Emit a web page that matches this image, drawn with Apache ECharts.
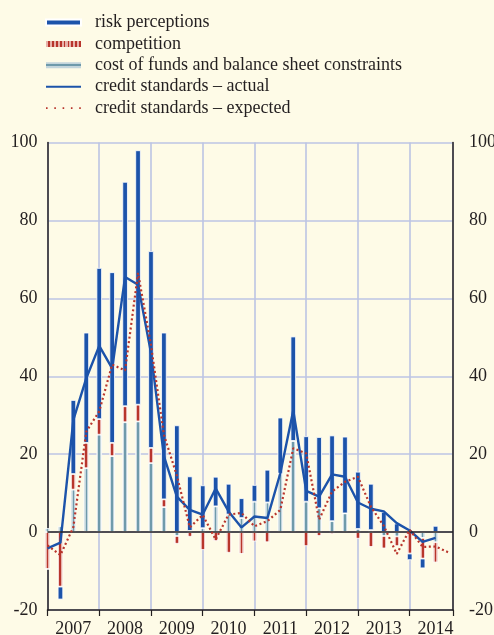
<!DOCTYPE html>
<html>
<head>
<meta charset="utf-8">
<script src="https://cdn.jsdelivr.net/npm/echarts@6/dist/echarts.min.js"></script>
<style>
html, body { margin: 0; padding: 0; background: #fefbe7; }
#grafico { width: 494px; height: 635px; }
</style>
</head>
<body>
<div id="grafico"></div>
<script>
// quarterly, first bar = 2007 Q1 (index 0)
const YEARS = ['2007', '2008', '2009', '2010', '2011', '2012', '2013', '2014']

const riskPerceptions = [0, -3.3, 19, 28.3, 38.8, 43.8, 57.6, 65.3, 50.5, 42.8, 27.4, 14, 11, 7.6, 7.9, 5.1,
  4.3, 8.4, 14.4, 26.8, 16.8, 18.3, 22, 19.7, 14.7, 11.9, 5.2, 2.2, -1.7, -2.5, 1.6]
const competition = [-9.5, -14, 4, 6.5, 4, 3.4, 4.1, 4.3, 3.9, 2, -2, -1.2, -4.6, -2.3, -5.3, -5.6,
  -2.4, -2.6, 0, 0, -3.6, -1, -0.5, 0, -1.7, -3.8, -3.2, -2.5, -5.5, -5.3, -5.2]
const costOfFunds = [1, 1.5, 10.9, 16.4, 25, 19.5, 28.2, 28.4, 17.7, 6.4, -1, 0.3, 1, 6.6, 4.5, 3.6,
  7.8, 7.6, 15, 23.4, 7.8, 6.1, 2.8, 4.8, 0.8, 0.5, -1, -1.1, 0, -1.5, -2.6]
const standardsActual = [-4.2, -2.7, 28.8, 39.5, 47.8, 42, 65.5, 63.5, 46, 19.5, 9.1, 5.7, 4.5, 11.2, 5.3, 1.2,
  4, 3.6, 15.1, 31.2, 10.6, 9.1, 14.8, 14.2, 7.6, 6, 5.3, 2.3, 0.4, -2.5, -1.5]
const standardsExpected = [-3.4, -5.9, 1.3, 25.8, 31, 43, 41.5, 66.5, 48, 25, 14.5, 1.2, 4.4, -1.9, 4.5, 4.9,
  1.5, 2.8, 5.7, 21.5, 20.2, 3.2, 10.4, 12.9, 14.2, 6.5, 1.6, -5.6, 0.6, -3.8, -3.7, -5.2]

const FONT = 'Liberation Serif'
const INK = '#231f20'
const GRID_LINE = '#bcc5e4'
const BLUE = '#1c53aa'
const RED = '#b8352c'
const PINK = '#e8b2aa'
const PALE = '#c3d5dc'
const TEAL = '#6f9aab'

// value/value axes stack by index: put y first so y is the stacked dimension
const asRows = arr => arr.map((v, i) => [v, i])
const asPoints = arr => arr.map((v, i) => [i, v])

// vertical stripes for the competition legend key
const stripes = (bg, fg, n, share) => {
  const stops = []
  for (let k = 0; k < n; k++) {
    const a = k / n, m = (k + 1 - share) / n, b = (k + 1) / n
    stops.push({ offset: a, color: bg }, { offset: m, color: bg })
    stops.push({ offset: m, color: fg }, { offset: b, color: fg })
  }
  return { type: 'linear', x: 0, y: 0, x2: 1, y2: 0, colorStops: stops }
}

const band = (side, mid, vertical, a, b) => ({
  type: 'linear', x: 0, y: 0, x2: vertical ? 0 : 1, y2: vertical ? 1 : 0,
  colorStops: [
    { offset: 0, color: side }, { offset: a, color: side },
    { offset: a, color: mid }, { offset: b, color: mid },
    { offset: b, color: side }, { offset: 1, color: side }
  ]
})

const compFill = band(PINK, RED, false, 0.33, 0.67)
const costFill = band(PALE, TEAL, false, 0.36, 0.64)
const costLegendFill = band(PALE, TEAL, true, 0.35, 0.65)

const yearCenters = YEARS.map((y, i) => i * 4 + 2)

let myChart = echarts.init(document.getElementById('grafico'))

const barBase = {
  type: 'bar',
  stack: 'factores',
  barWidth: 5.5,
  clip: false,
  encode: { x: 1, y: 0 }
}

let option = {
  backgroundColor: '#fefbe7',
  animation: false,
  textStyle: { fontFamily: FONT, color: INK },
  legend: {
    orient: 'vertical',
    left: 40,
    top: 8.5,
    itemWidth: 35,
    itemHeight: 6,
    itemGap: 3.4,
    selectedMode: false,
    textStyle: { fontFamily: FONT, fontSize: 18, color: INK, lineHeight: 18, padding: [0, 0, 0, 9] },
    data: [
      { name: 'risk perceptions', icon: 'rect' },
      { name: 'competition', icon: 'rect', itemStyle: { color: stripes(PINK, RED, 9, 0.45), borderWidth: 0 } },
      { name: 'cost of funds and balance sheet constraints', icon: 'rect', itemStyle: { color: costLegendFill, borderWidth: 0 } },
      { name: 'credit standards – actual', itemStyle: { opacity: 0 } },
      { name: 'credit standards – expected', itemStyle: { opacity: 0 }, lineStyle: { type: [1.6, 6.7], width: 1.8 } }
    ]
  },
  grid: { left: 47.5, top: 142.5, right: 41, bottom: 25, outerBoundsMode: 'none', containLabel: false },
  xAxis: {
    type: 'value',
    min: 0,
    max: 31.35,
    interval: 4,
    axisLine: { onZero: false, lineStyle: { color: INK, width: 1.5 } },
    axisTick: { show: true, length: 6, lineStyle: { color: INK, width: 1.2 } },
    splitLine: { show: true, lineStyle: { color: GRID_LINE, width: 1.6 } },
    axisLabel: {
      customValues: yearCenters,
      formatter: v => YEARS[(v - 2) / 4],
      fontFamily: FONT, fontSize: 18, color: INK, margin: 10
    }
  },
  yAxis: [
    {
      type: 'value',
      position: 'left',
      min: -20, max: 100, interval: 20,
      axisLine: { show: true, onZero: false, lineStyle: { color: INK, width: 1.5 } },
      axisTick: { show: false },
      splitLine: { show: true, lineStyle: { color: GRID_LINE, width: 1.6 } },
      axisLabel: { fontFamily: FONT, fontSize: 18, color: INK, margin: 10 }
    },
    {
      type: 'value',
      position: 'right',
      min: -20, max: 100, interval: 20,
      axisLine: { show: true, onZero: false, lineStyle: { color: INK, width: 1.5 } },
      axisTick: { show: false },
      splitLine: { show: false },
      axisLabel: { fontFamily: FONT, fontSize: 18, color: INK, margin: 16 }
    }
  ],
  series: [
    {
      ...barBase,
      name: 'cost of funds and balance sheet constraints',
      data: asRows(costOfFunds),
      itemStyle: { color: costFill, borderColor: '#ffffff', borderWidth: 0.8 },
      markLine: {
        silent: true,
        symbol: 'none',
        label: { show: false },
        lineStyle: { color: INK, width: 1.5, type: 'solid' },
        data: [{ yAxis: 0 }]
      }
    },
    {
      ...barBase,
      name: 'competition',
      data: asRows(competition),
      itemStyle: { color: compFill, borderColor: '#ffffff', borderWidth: 0.8 }
    },
    {
      ...barBase,
      name: 'risk perceptions',
      data: asRows(riskPerceptions),
      itemStyle: { color: BLUE, borderColor: '#ffffff', borderWidth: 0.8 }
    },
    {
      name: 'credit standards – actual',
      type: 'line',
      data: asPoints(standardsActual),
      symbol: 'none',
      lineStyle: { color: BLUE, width: 2.4 },
      itemStyle: { color: BLUE },
      z: 4
    },
    {
      name: 'credit standards – expected',
      type: 'line',
      data: asPoints(standardsExpected),
      symbol: 'none',
      lineStyle: { color: RED, width: 2.2, type: [2, 2.6] },
      itemStyle: { color: RED },
      z: 5
    }
  ]
}

myChart.setOption(option)
</script>
</body>
</html>
